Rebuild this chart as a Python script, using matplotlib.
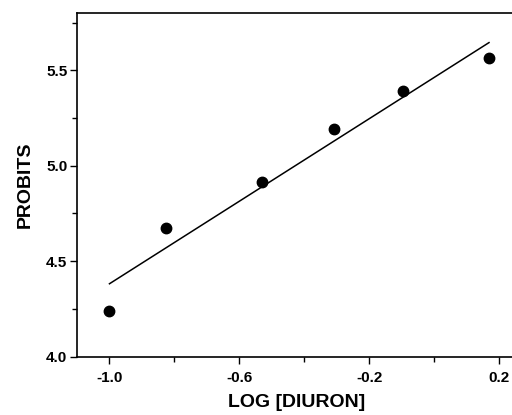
import matplotlib
matplotlib.use("Agg")
import matplotlib.pyplot as plt
from matplotlib.ticker import MultipleLocator

# Data
log_diuron = [-1.0, -0.825, -0.529, -0.308, -0.095, 0.169]
probits = [4.24, 4.673, 4.917, 5.192, 5.39, 5.564]

# Regression line endpoints (as drawn)
fit_x = [-1.0, 0.169]
fit_y = [4.382, 5.645]

x_ticks = [-1.0, -0.6, -0.2, 0.2]
x_ticklabels = ["-1.0", "-0.6", "-0.2", "0.2"]
y_ticks = [4.0, 4.5, 5.0, 5.5]
y_ticklabels = ["4.0", "4.5", "5.0", "5.5"]

plt.rcParams['font.family'] = ['Liberation Sans', 'DejaVu Sans']
plt.rcParams['font.weight'] = 'bold'

fig = plt.figure(figsize=(5.12, 4.15), dpi=100)
left = 77 / 512
bottom = 1 - 356.7 / 415
top = 1 - 13 / 415
right = 515.3 / 512
ax = fig.add_axes([left, bottom, right - left, top - bottom])

ax.plot(fit_x, fit_y, color='black', linewidth=1.1)
ax.plot(log_diuron, probits, 'o', color='black', markersize=7.5)

ax.set_xlim(-1.10, 0.25)
ax.set_ylim(4.0, 5.8)

ax.set_xticks(x_ticks)
ax.set_xticklabels(x_ticklabels)
ax.set_yticks(y_ticks)
ax.set_yticklabels(y_ticklabels)
ax.xaxis.set_minor_locator(MultipleLocator(0.2))
ax.yaxis.set_minor_locator(MultipleLocator(0.25))

ax.tick_params(axis='both', which='major', direction='out', length=5, width=1.0,
               labelsize=11, color='black')
ax.tick_params(axis='both', which='minor', direction='out', length=3.5, width=1.0)
ax.tick_params(axis='x', which='major', pad=5)
ax.tick_params(axis='y', which='major', pad=2)
for lab in ax.get_xticklabels() + ax.get_yticklabels():
    lab.set_fontweight('bold')

for s in ['left', 'bottom', 'top']:
    ax.spines[s].set_linewidth(1.2)
ax.spines['right'].set_visible(False)

ax.set_xlabel('LOG [DIURON]', fontsize=14, fontweight='bold', labelpad=7)
ax.set_ylabel('PROBITS', fontsize=14, fontweight='bold', labelpad=9)

fig.savefig('out.png', dpi=100)
